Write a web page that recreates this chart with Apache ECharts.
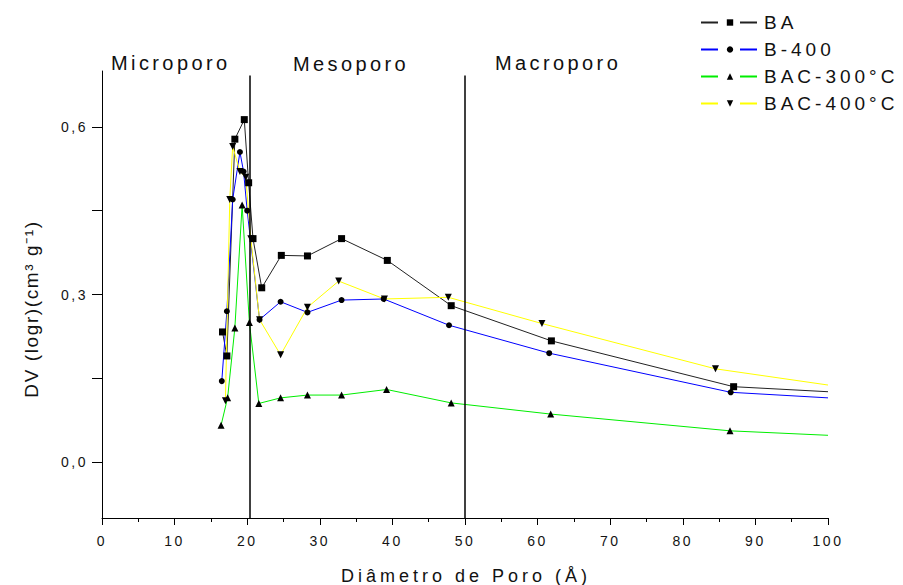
<!DOCTYPE html>
<html>
<head>
<meta charset="utf-8">
<script src="https://cdn.jsdelivr.net/npm/echarts@6/dist/echarts.min.js"></script>
<style>
html,body{margin:0;padding:0;background:#fff;}
#chart{width:903px;height:585px;}
/* letter spacing like the original Origin export */
#chart text[fill="#101010"], #chart text[fill="rgb(16,16,16)"] { letter-spacing: 3.4px; }   /* region labels */
#chart text[fill="#111111"], #chart text[fill="rgb(17,17,17)"] { letter-spacing: 4px; }     /* legend */
#chart text[fill="#121212"], #chart text[fill="rgb(18,18,18)"] { letter-spacing: 4px; }     /* x title */
#chart text[fill="#131313"], #chart text[fill="rgb(19,19,19)"] { letter-spacing: 1.6px; }   /* y title */
#chart text[fill="#141414"], #chart text[fill="rgb(20,20,20)"] { letter-spacing: 2.5px; }   /* tick labels */
</style>
</head>
<body>
<div id="chart"></div>
<script>
// ---- data ----
var seriesNames = ['BA', 'B-400', 'BAC-300°C', 'BAC-400°C'];
var baX   = [16.6, 17.2, 18.3, 19.6, 20.2, 20.8, 22.0, 24.7, 28.3, 33.0, 39.3, 48.1, 61.9, 87.0, 100];
var baY   = [0.233, 0.190, 0.578, 0.613, 0.500, 0.400, 0.312, 0.370, 0.369, 0.400, 0.361, 0.280, 0.217, 0.135, 0.126];
var b400X = [16.5, 17.2, 18.0, 19.0, 19.5, 20.0, 21.7, 24.6, 28.3, 33.0, 38.8, 47.8, 61.6, 86.6, 100];
var b400Y = [0.145, 0.270, 0.470, 0.555, 0.520, 0.450, 0.255, 0.287, 0.268, 0.290, 0.292, 0.245, 0.195, 0.125, 0.115];
var b300X = [16.4, 17.3, 18.3, 19.3, 20.3, 21.6, 24.6, 28.3, 33.0, 39.2, 48.1, 61.8, 86.5, 100];
var b300Y = [0.066, 0.115, 0.240, 0.460, 0.250, 0.105, 0.115, 0.120, 0.120, 0.130, 0.106, 0.086, 0.056, 0.048];
var bc400X = [17.0, 17.6, 18.0, 19.0, 19.8, 20.5, 21.7, 24.6, 28.3, 32.6, 38.9, 47.7, 60.6, 84.5, 100];
var bc400Y = [0.110, 0.470, 0.565, 0.520, 0.510, 0.400, 0.255, 0.192, 0.277, 0.324, 0.292, 0.295, 0.248, 0.167, 0.138];
var xTicks = [0, 10, 20, 30, 40, 50, 60, 70, 80, 90, 100];
var yTickValues = [0, 0.15, 0.3, 0.45, 0.6];
var yLabelValues = [0, 0.3, 0.6];
var regionLines = [20.4, 50];
var regionLineTop = 0.692;
var regionLineBottom = -0.1;
var regionLabels = ['Microporo', 'Mesoporo', 'Macroporo'];
var xTitle = 'Diâmetro de Poro (Å)';
var yTitle = 'DV (logr)(cm³ g⁻¹)';

function pairs(xs, ys) {
  var out = [];
  for (var i = 0; i < xs.length; i++) {
    var item = { value: [xs[i], ys[i]] };
    if (xs[i] === 100) item.symbol = 'none';   // curve end without marker
    out.push(item);
  }
  return out;
}

var chart = echarts.init(document.getElementById('chart'), null, { renderer: 'svg' });
var fontFam = '"Liberation Sans", Arial, sans-serif';

function mkSeries(name, xs, ys, color, symbol, size, rotate) {
  return {
    name: name,
    type: 'line',
    data: pairs(xs, ys),
    symbol: symbol,
    symbolSize: size,
    symbolRotate: rotate || 0,
    showAllSymbol: true,
    lineStyle: { color: color, width: 1 },
    itemStyle: { color: '#000', borderWidth: 0 },
    emphasis: { disabled: true },
    animation: false,
    z: 3
  };
}

var series = [
  mkSeries(seriesNames[0], baX, baY, '#222', 'rect', 7),
  mkSeries(seriesNames[1], b400X, b400Y, '#0000ff', 'circle', 6),
  mkSeries(seriesNames[2], b300X, b300Y, '#00ee00', 'triangle', 7),
  mkSeries(seriesNames[3], bc400X, bc400Y, '#ffff00', 'triangle', 7, 180)
];
series[0].markLine = {
  silent: true,
  symbol: 'none',
  label: { show: false },
  lineStyle: { color: '#000', width: 1.5, type: 'solid' },
  data: regionLines.map(function (v) {
    return [{ coord: [v, regionLineTop] }, { coord: [v, regionLineBottom] }];
  }),
  animation: false
};

var regionFont = '20px "Liberation Sans", Arial, sans-serif';
var option = {
  backgroundColor: '#fff',
  animation: false,
  grid: { left: 102, right: 75, top: 71, bottom: 67, outerBoundsMode: 'none', containLabel: false },
  legend: {
    orient: 'vertical',
    left: 695,
    top: 8,
    itemWidth: 58,
    itemHeight: 8,
    itemGap: 8,
    data: seriesNames,
    lineStyle: { type: [17, 22] },
    textStyle: { fontFamily: fontFam, fontSize: 19, color: '#111111' }
  },
  xAxis: {
    type: 'value',
    min: 0, max: 100, interval: 10,
    axisLine: { show: true, onZero: false, lineStyle: { color: '#000', width: 1 } },
    axisTick: { show: true, inside: false, length: 7, lineStyle: { color: '#000' } },
    minorTick: { show: true, splitNumber: 2, length: 4, lineStyle: { color: '#000' } },
    splitLine: { show: false },
    axisLabel: {
      fontFamily: fontFam, fontSize: 14, color: '#141414', margin: 16,
      formatter: function (v) { return xTicks.indexOf(v) >= 0 ? String(v) : ''; }
    }
  },
  yAxis: {
    type: 'value',
    min: -0.1, max: 0.7,
    axisLine: { show: true, onZero: false, lineStyle: { color: '#000', width: 1 } },
    axisTick: { show: true, inside: false, length: 10, customValues: yTickValues, lineStyle: { color: '#000' } },
    splitLine: { show: false },
    axisLabel: {
      fontFamily: fontFam, fontSize: 14, color: '#141414', margin: 14,
      customValues: yLabelValues,
      formatter: function (v) { return v.toFixed(1).replace('.', ','); }
    }
  },
  graphic: [
    { type: 'text', left: 111, top: 53, style: { text: regionLabels[0], font: regionFont, fill: '#101010' } },
    { type: 'text', left: 293, top: 54, style: { text: regionLabels[1], font: regionFont, fill: '#101010' } },
    { type: 'text', left: 495, top: 53, style: { text: regionLabels[2], font: regionFont, fill: '#101010' } },
    { type: 'text', x: 466, y: 576,
      style: { text: xTitle, font: '18px "Liberation Sans", Arial, sans-serif', fill: '#121212', align: 'center', verticalAlign: 'middle' } },
    { type: 'text', x: 31, y: 309, rotation: Math.PI / 2,
      style: { text: yTitle, font: '19px "Liberation Sans", Arial, sans-serif', fill: '#131313', align: 'center', verticalAlign: 'middle' } }
  ],
  series: series
};
chart.setOption(option);
</script>
</body>
</html>
